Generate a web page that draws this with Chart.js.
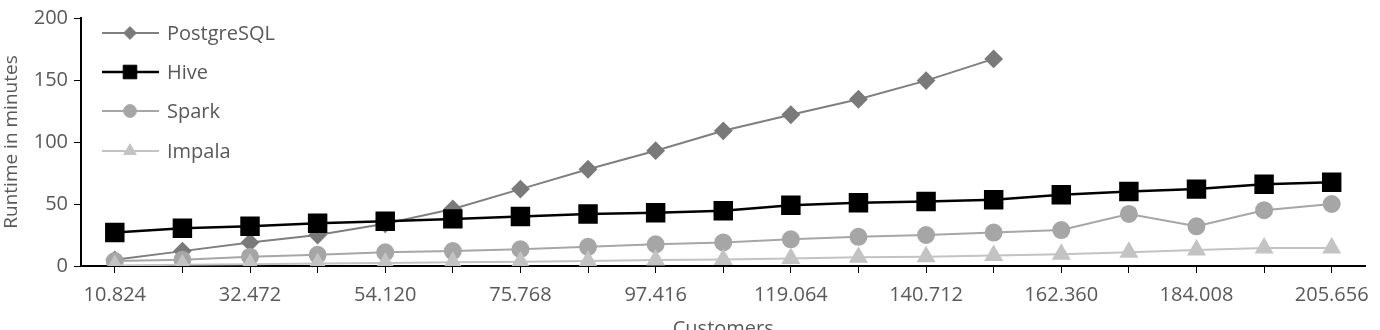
<!DOCTYPE html>
<html lang="en">
<head>
    <meta charset="UTF-8">
    <title>Runtime vs Customers</title>
    <style>
        html, body { margin: 0; padding: 0; background: #fff; overflow: hidden; }
        #box { width: 1380px; height: 341px; position: relative; }
    </style>
</head>
<body>
    <div id="box"><canvas id="myChart"></canvas></div>
    <script src="https://cdn.jsdelivr.net/npm/chart.js"></script>
    <script>
        // data (minutes)
        var customers = ['10.824', '21.648', '32.472', '43.296', '54.120', '64.944', '75.768', '86.592',
            '97.416', '108.240', '119.064', '129.888', '140.712', '151.536', '162.360', '173.184',
            '184.008', '194.832', '205.656'];
        var postgres = [5, 12, 19, 25, 34, 46, 62, 78, 93, 109, 122, 134.5, 149.5, 167, null, null, null, null, null];
        var hive = [27, 30.5, 32, 34.5, 36, 38, 40, 42, 43, 44.5, 49, 51, 52, 53.5, 57.5, 60, 62, 66, 67.5];
        var spark = [4, 5, 7.5, 9, 11, 12, 13.5, 15.5, 17.5, 19, 21.5, 23.5, 25, 27, 29, 42, 32, 45, 50];
        var impala = [0.5, 1, 1.5, 2, 2.5, 3, 3.5, 4, 4.8, 5.3, 6, 7, 7.5, 8.5, 9.5, 11, 13, 14.5, 14.5];
        var yTicks = [0, 50, 100, 150, 200];

        var txtColor = '#595959';
        var font = "'Open Sans', sans-serif";

        // legend: line + marker, drawn inside the plot like the original
        var legendPlugin = {
            id: 'lineLegend',
            afterDraw: function (chart) {
                var ctx = chart.ctx;
                var rows = [33, 72, 111, 151];
                chart.data.datasets.forEach(function (ds, i) {
                    var y = rows[i];
                    ctx.save();
                    ctx.strokeStyle = ds.borderColor;
                    ctx.lineWidth = ds.borderWidth;
                    ctx.beginPath();
                    ctx.moveTo(102, y);
                    ctx.lineTo(159, y);
                    ctx.stroke();
                    ctx.fillStyle = ds.pointBackgroundColor;
                    ctx.strokeStyle = ds.pointBorderColor;
                    ctx.lineWidth = 1;
                    Chart.helpers.drawPoint(ctx, {
                        pointStyle: ds.pointStyle,
                        radius: ds.pointRadius * 0.8,
                        rotation: 0,
                        borderWidth: 1
                    }, 130, y);
                    ctx.fillStyle = txtColor;
                    ctx.font = "20px " + font;
                    ctx.textBaseline = 'middle';
                    ctx.fillText(ds.label, 167, y + 1);
                    ctx.restore();
                });
            }
        };

        var ctx01 = document.getElementById('myChart');
        var mychart = new Chart(ctx01, {
            type: 'line',
            data: {
                labels: customers,
                datasets: [{
                    label: 'PostgreSQL',
                    data: postgres,
                    borderColor: '#7f7f7f',
                    borderWidth: 2,
                    pointStyle: 'rectRot',
                    pointRadius: 8,
                    pointBackgroundColor: '#7a7a7a',
                    pointBorderColor: '#7a7a7a',
                    order: 3
                }, {
                    label: 'Hive',
                    data: hive,
                    borderColor: '#000000',
                    borderWidth: 2.5,
                    pointStyle: 'rect',
                    pointRadius: 12,
                    pointBackgroundColor: '#000000',
                    pointBorderColor: '#000000',
                    order: 0
                }, {
                    label: 'Spark',
                    data: spark,
                    borderColor: '#a6a6a6',
                    borderWidth: 2,
                    pointStyle: 'circle',
                    pointRadius: 8,
                    pointBackgroundColor: '#a6a6a6',
                    pointBorderColor: '#a6a6a6',
                    order: 2
                }, {
                    label: 'Impala',
                    data: impala,
                    borderColor: '#c3c3c3',
                    borderWidth: 2,
                    pointStyle: 'triangle',
                    pointRadius: 9,
                    pointBackgroundColor: '#c3c3c3',
                    pointBorderColor: '#c3c3c3',
                    order: 1
                }]
            },
            options: {
                responsive: true,
                maintainAspectRatio: false,
                animation: false,
                layout: { padding: { top: 15, right: 12, left: 0, bottom: 0 } },
                plugins: {
                    legend: { display: false },
                    tooltip: { enabled: false }
                },
                scales: {
                    x: {
                        offset: true,
                        grid: {
                            drawOnChartArea: false,
                            drawTicks: true,
                            tickLength: 7,
                            color: '#000'
                        },
                        border: { display: true, color: '#000', width: 2 },
                        ticks: {
                            autoSkip: false,
                            maxRotation: 0,
                            padding: 10,
                            color: txtColor,
                            font: { family: font, size: 20 },
                            callback: function (v, i) {
                                return i % 2 === 0 ? customers[i] : '';
                            }
                        },
                        title: {
                            display: true,
                            text: 'Customers',
                            color: txtColor,
                            font: { family: font, size: 20 },
                            padding: { top: 0, bottom: 0 }
                        },
                        afterFit: function (s) { s.height = 75; }
                    },
                    y: {
                        min: 0,
                        max: 200,
                        grid: {
                            drawOnChartArea: false,
                            drawTicks: true,
                            tickLength: 7,
                            color: '#000'
                        },
                        border: { display: true, color: '#000', width: 2 },
                        afterBuildTicks: function (s) {
                            s.ticks = yTicks.map(function (v) { return { value: v }; });
                        },
                        ticks: {
                            padding: 6,
                            color: txtColor,
                            font: { family: font, size: 20 }
                        },
                        title: {
                            display: true,
                            text: 'Runtime in minutes',
                            color: txtColor,
                            font: { family: font, size: 19 },
                            padding: { top: 0, bottom: 0 }
                        },
                        afterFit: function (s) { s.width = 81; }
                    }
                }
            },
            plugins: [legendPlugin]
        });
    </script>
</body>
</html>
